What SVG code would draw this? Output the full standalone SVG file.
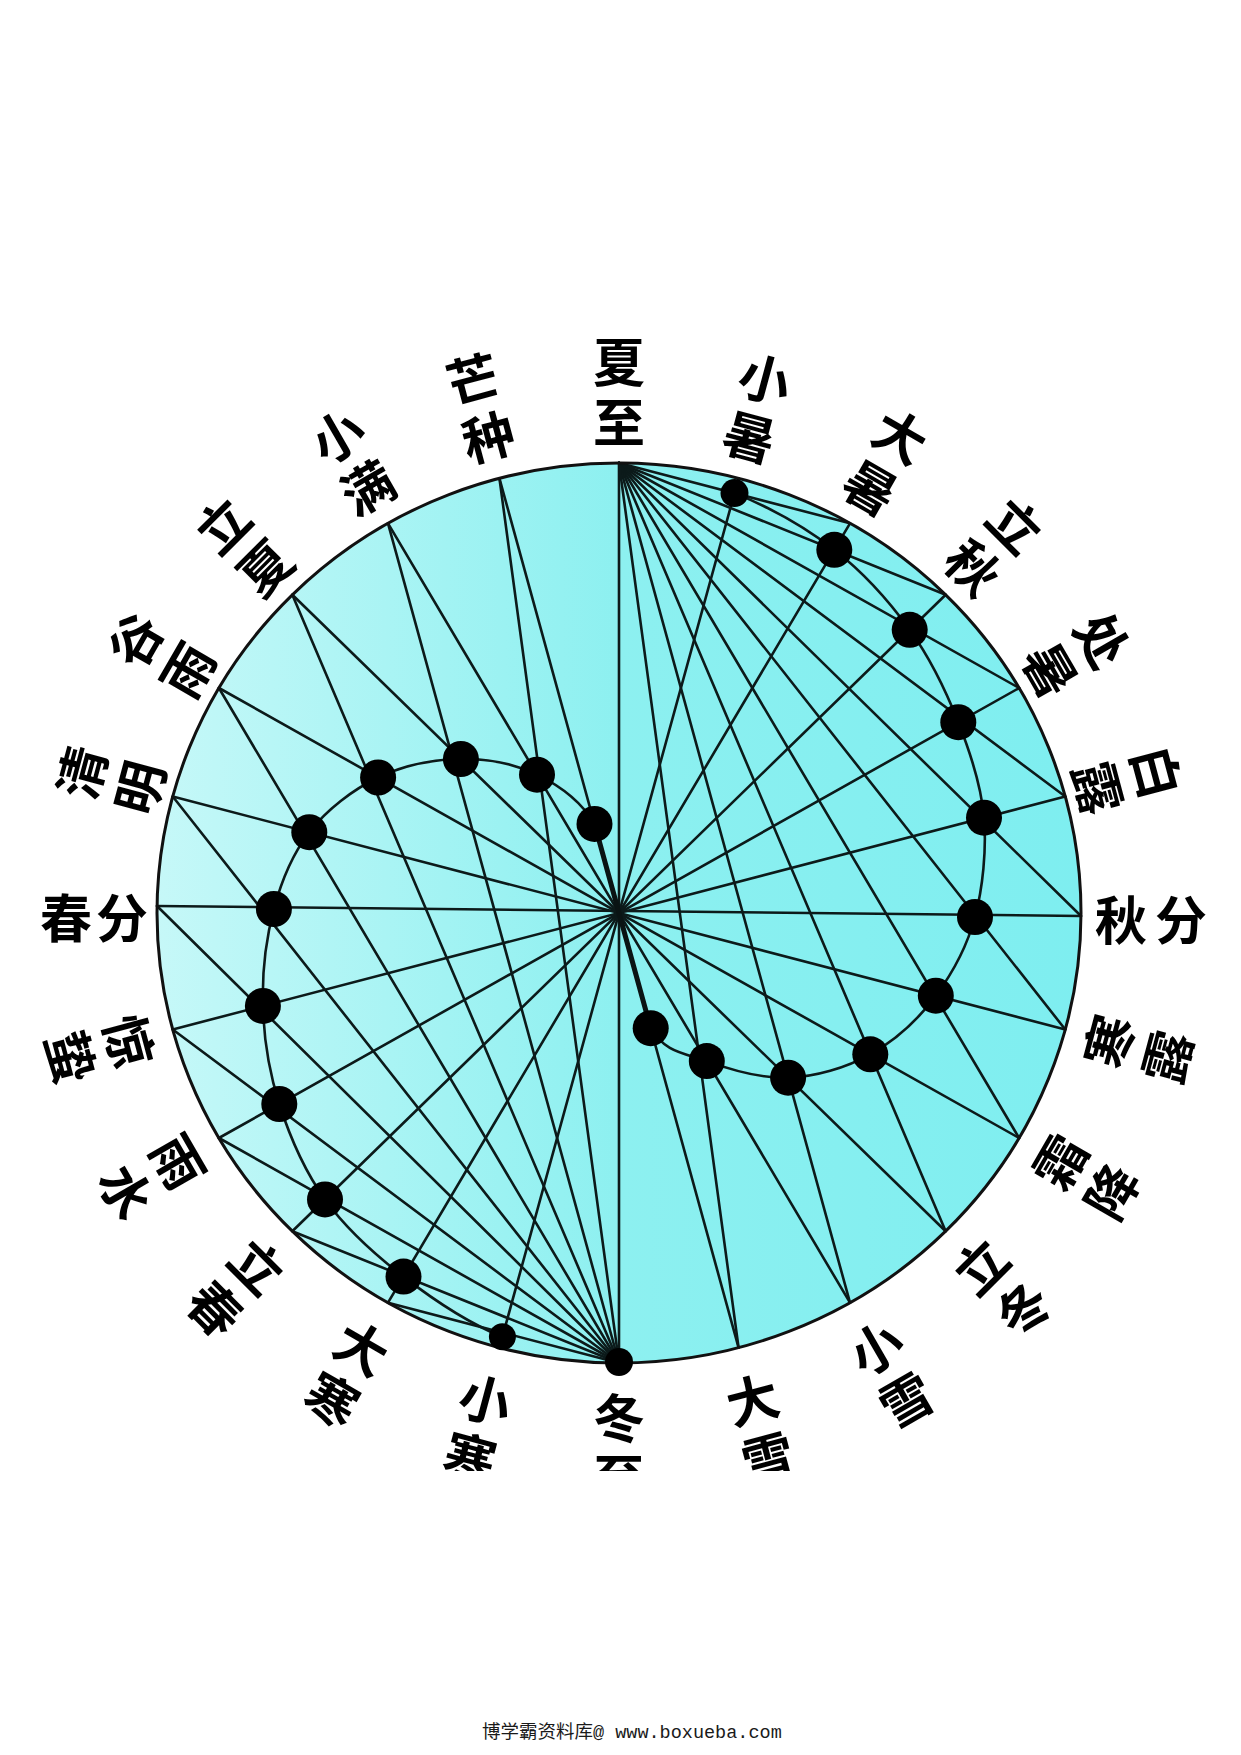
<svg xmlns="http://www.w3.org/2000/svg" width="1241" height="1755" viewBox="0 0 1241 1755">
<defs>
<linearGradient id="fill" x1="0" y1="0" x2="1" y2="0">
<stop offset="0" stop-color="#c6f8f8"/>
<stop offset="0.5" stop-color="#8df0f0"/>
<stop offset="1" stop-color="#7eeef0"/>
</linearGradient>
</defs>
<style>
.ln{stroke:#0c1a1a;stroke-width:2.6;fill:none;stroke-linecap:round}
.thick{stroke:#0a1414;stroke-width:5;fill:none;stroke-linecap:round}
.dot{fill:#000}
.lb{font-family:"Noto Sans CJK SC","Noto Sans CJK JP",sans-serif;font-size:52px;font-weight:700;fill:#000;text-anchor:middle;dominant-baseline:central}
.wm{font-family:"Liberation Mono","Noto Sans CJK SC",monospace;font-size:18.5px;fill:#1a1a1a}
</style>
<rect width="1241" height="1755" fill="#fff"/>
<ellipse id="disc" cx="619" cy="913" rx="462" ry="450" fill="url(#fill)"/>
<g id="connectors">
<!-- diameters -->
<line class="ln" x1="619" y1="463" x2="619" y2="1363"/>
<line class="ln" x1="738.57" y1="478.33" x2="499.43" y2="1347.67"/>
<line class="ln" x1="850" y1="523.29" x2="388" y2="1302.71"/>
<line class="ln" x1="945.68" y1="594.8" x2="292.32" y2="1231.2"/>
<line class="ln" x1="1019.1" y1="688" x2="218.9" y2="1138"/>
<line class="ln" x1="1065.26" y1="796.53" x2="172.74" y2="1029.47"/>
<line class="ln" x1="1081" y1="916" x2="157" y2="906"/>
<line class="ln" x1="1065.26" y1="1029.47" x2="172.74" y2="796.53"/>
<line class="ln" x1="1019.1" y1="1138" x2="218.9" y2="688"/>
<line class="ln" x1="945.68" y1="1231.2" x2="292.32" y2="594.8"/>
<line class="ln" x1="850" y1="1302.71" x2="388" y2="523.29"/>
<line class="ln" x1="738.57" y1="1347.67" x2="499.43" y2="478.33"/>
<!-- fan from summer solstice point -->
<line class="ln" x1="619" y1="463" x2="850" y2="523.29"/>
<line class="ln" x1="619" y1="463" x2="945.68" y2="594.8"/>
<line class="ln" x1="619" y1="463" x2="1019.1" y2="688"/>
<line class="ln" x1="619" y1="463" x2="1065.26" y2="796.53"/>
<line class="ln" x1="619" y1="463" x2="1081" y2="916"/>
<line class="ln" x1="619" y1="463" x2="1065.26" y2="1029.47"/>
<line class="ln" x1="619" y1="463" x2="1019.1" y2="1138"/>
<line class="ln" x1="619" y1="463" x2="945.68" y2="1231.2"/>
<line class="ln" x1="619" y1="463" x2="850" y2="1302.71"/>
<line class="ln" x1="619" y1="463" x2="738.57" y2="1347.67"/>
<!-- fan from winter solstice point -->
<line class="ln" x1="619" y1="1363" x2="388" y2="1302.71"/>
<line class="ln" x1="619" y1="1363" x2="292.32" y2="1231.2"/>
<line class="ln" x1="619" y1="1363" x2="218.9" y2="1138"/>
<line class="ln" x1="619" y1="1363" x2="172.74" y2="1029.47"/>
<line class="ln" x1="619" y1="1363" x2="157" y2="906"/>
<line class="ln" x1="619" y1="1363" x2="172.74" y2="796.53"/>
<line class="ln" x1="619" y1="1363" x2="218.9" y2="688"/>
<line class="ln" x1="619" y1="1363" x2="292.32" y2="594.8"/>
<line class="ln" x1="619" y1="1363" x2="388" y2="523.29"/>
<line class="ln" x1="619" y1="1363" x2="499.43" y2="478.33"/>
<!-- S curve -->
<path class="ln" d="M502.4,1336.8 C466.5,1322.4 433.1,1299.5 403.5,1276.6 C373.9,1253.7 345.7,1228.2 325.0,1199.4 C304.3,1170.6 289.7,1136.3 279.3,1104.0 C269.0,1071.8 263.8,1037.7 262.9,1005.9 C262.0,974.1 266.2,938.0 273.9,909 C281.6,880.1 291.9,854.8 309.3,832.2 C326.7,809.6 352.8,789.7 378.1,777.5 C403.4,765.3 434.4,759.5 460.9,759.0 C487.4,758.5 514.7,763.9 537.0,774.7 C559.3,785.5 580.8,800.9 594.5,823.9"/>
<path class="ln" d="M650.7,1028.2 C665.3,1052.9 683.9,1052.9 706.8,1061.1 C729.7,1069.4 760.9,1078.8 788.1,1077.7 C815.4,1076.6 845.7,1068.0 870.3,1054.3 C894.9,1040.6 918.4,1019.3 935.8,995.7 C953.2,972.2 966.7,947.7 975,917 C982.7,888.3 986.7,849.5 984.0,817.7 C981.3,785.9 970.7,753.5 958.3,722.2 C945.9,690.9 930.4,658.5 909.7,629.8 C889.0,601.1 863.5,572.6 834.3,549.8 C805.1,527.0 770.4,507.6 734.5,493.1"/>
<path class="thick" d="M594.5,823.9 L619,913 L650.7,1028.2"/>
</g>
<ellipse cx="619" cy="913" rx="462" ry="450" fill="none" stroke="#111" stroke-width="3"/>
<g id="xiazhi"><text class="lb" transform="translate(619 359)">夏</text><text class="lb" transform="translate(619 419)">至</text></g>
<g id="xiaoshu"><circle class="dot" cx="734.5" cy="493.1" r="14"/><text class="lb" transform="translate(765.8 376.6) rotate(15)">小</text><text class="lb" transform="translate(750.3 434.6) rotate(15)">暑</text></g>
<g id="dashu"><circle class="dot" cx="834.3" cy="549.8" r="18"/><text class="lb" transform="translate(901.8 433.7) rotate(30)">大</text><text class="lb" transform="translate(871.8 485.6) rotate(30)">暑</text></g>
<g id="liqiu"><circle class="dot" cx="909.7" cy="629.8" r="18"/><text class="lb" transform="translate(1017.1 523.4) rotate(45)">立</text><text class="lb" transform="translate(974.7 565.8) rotate(45)">秋</text></g>
<g id="chushu"><circle class="dot" cx="958.3" cy="722.2" r="18"/><text class="lb" transform="translate(1104.4 638.8) rotate(60)">处</text><text class="lb" transform="translate(1052.4 668.8) rotate(60)">暑</text></g>
<g id="bailu"><circle class="dot" cx="984" cy="817.7" r="18"/><text class="lb" transform="translate(1158.7 771.5) rotate(75)">白</text><text class="lb" transform="translate(1100.7 787) rotate(75)">露</text></g>
<g id="qiufen"><circle class="dot" cx="975" cy="917" r="18"/><text class="lb" transform="translate(1121 917)">秋</text><text class="lb" transform="translate(1181 917)">分</text></g>
<g id="hanlu"><circle class="dot" cx="935.8" cy="995.7" r="18"/><text class="lb" transform="translate(1106.5 1040.5) rotate(-75)">寒</text><text class="lb" transform="translate(1164.5 1056) rotate(-75)">露</text></g>
<g id="shuangjiang"><circle class="dot" cx="870.3" cy="1054.3" r="18"/><text class="lb" transform="translate(1057.6 1160.3) rotate(-60)">霜</text><text class="lb" transform="translate(1109.6 1190.3) rotate(-60)">降</text></g>
<g id="lidong"><circle class="dot" cx="788.1" cy="1077.7" r="18"/><text class="lb" transform="translate(978.9 1264.4) rotate(-45)">立</text><text class="lb" transform="translate(1021.3 1306.9) rotate(-45)">冬</text></g>
<g id="xiaoxue"><circle class="dot" cx="706.8" cy="1061.1" r="18"/><text class="lb" transform="translate(874.8 1345.6) rotate(-30)">小</text><text class="lb" transform="translate(904.8 1397.5) rotate(-30)">雪</text></g>
<g id="daxue"><circle class="dot" cx="650.7" cy="1028.2" r="18"/><text class="lb" transform="translate(751.8 1397.2) rotate(-15)">大</text><text class="lb" transform="translate(767.4 1455.2) rotate(-15)">雪</text></g>
<g id="dongzhi"><circle class="dot" cx="619" cy="1362" r="14"/><text class="lb" transform="translate(619 1415)">冬</text><text class="lb" transform="translate(619 1475)">至</text></g>
<g id="xiaohan"><circle class="dot" cx="502.4" cy="1336.8" r="13.5"/><text class="lb" transform="translate(486.2 1397.2) rotate(15)">小</text><text class="lb" transform="translate(470.6 1455.2) rotate(15)">寒</text></g>
<g id="dahan"><circle class="dot" cx="403.5" cy="1276.6" r="18"/><text class="lb" transform="translate(363.2 1345.6) rotate(30)">大</text><text class="lb" transform="translate(333.2 1397.5) rotate(30)">寒</text></g>
<g id="lichun"><circle class="dot" cx="325" cy="1199.4" r="18"/><text class="lb" transform="translate(259.1 1264.4) rotate(45)">立</text><text class="lb" transform="translate(216.7 1306.9) rotate(45)">春</text></g>
<g id="yushui"><circle class="dot" cx="279.3" cy="1104" r="18"/><text class="lb" transform="translate(180.4 1160.3) rotate(60)">雨</text><text class="lb" transform="translate(128.4 1190.3) rotate(60)">水</text></g>
<g id="jingzhe"><circle class="dot" cx="262.9" cy="1005.9" r="18"/><text class="lb" transform="translate(131.5 1040.5) rotate(75)">惊</text><text class="lb" transform="translate(73.5 1056) rotate(75)">蛰</text></g>
<g id="chunfen"><circle class="dot" cx="273.9" cy="909" r="18"/><text class="lb" transform="translate(66 915)">春</text><text class="lb" transform="translate(122 915)">分</text></g>
<g id="qingming"><circle class="dot" cx="309.3" cy="832.2" r="18"/><text class="lb" transform="translate(79.3 771.5) rotate(-75)">清</text><text class="lb" transform="translate(137.3 787) rotate(-75)">明</text></g>
<g id="guyu"><circle class="dot" cx="378.1" cy="777.5" r="18"/><text class="lb" transform="translate(133.6 638.8) rotate(-60)">谷</text><text class="lb" transform="translate(185.6 668.8) rotate(-60)">雨</text></g>
<g id="lixia"><circle class="dot" cx="460.9" cy="759" r="18"/><text class="lb" transform="translate(220.9 523.4) rotate(-45)">立</text><text class="lb" transform="translate(263.3 565.8) rotate(-45)">夏</text></g>
<g id="xiaoman"><circle class="dot" cx="537" cy="774.7" r="18"/><text class="lb" transform="translate(336.3 433.7) rotate(-30)">小</text><text class="lb" transform="translate(366.3 485.6) rotate(-30)">满</text></g>
<g id="mangzhong"><circle class="dot" cx="594.5" cy="823.9" r="18"/><text class="lb" transform="translate(472.2 376.6) rotate(-15)">芒</text><text class="lb" transform="translate(487.7 434.6) rotate(-15)">种</text></g>
<rect x="0" y="1471" width="1241" height="284" fill="#fff"/>
<text class="wm" x="482" y="1738">博学霸资料库@ www.boxueba.com</text>
</svg>
